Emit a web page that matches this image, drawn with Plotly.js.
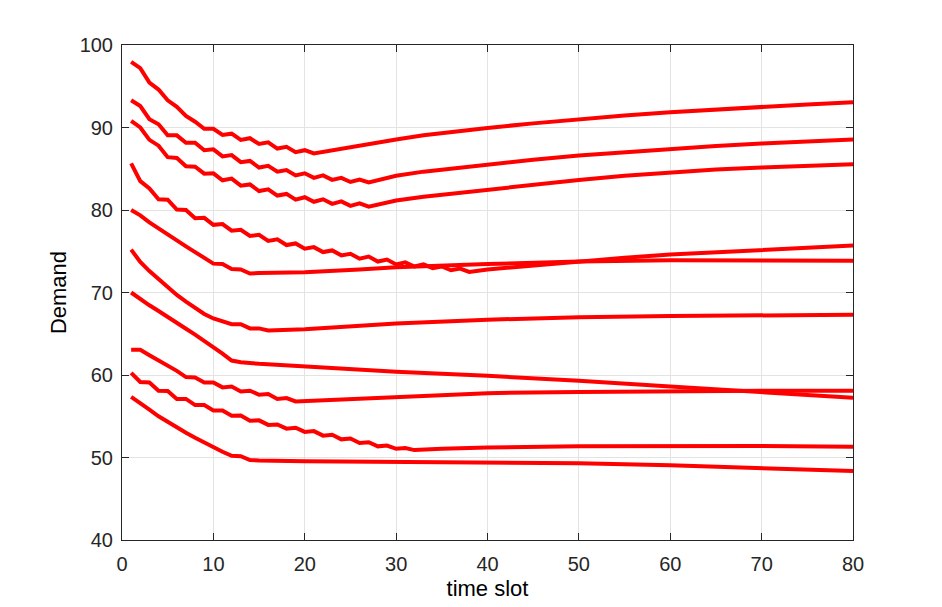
<!DOCTYPE html>
<html>
<head>
<meta charset="utf-8">
<script src="https://cdn.plot.ly/plotly-3.0.1.min.js"></script>
<style>
  html, body { margin: 0; padding: 0; background: #ffffff; }
  #chart { width: 942px; height: 607px; }
</style>
</head>
<body>
<div id="chart"></div>
<script>
// Demand per time slot for ten users
const slot1 = [1,2,3,4,5,6,7,8,9,10,11,12,13,14,15,16,17,18,19,20,21,22,23,25,27,30,33,37,40,45,50,55,60,65,70,75,80];
const demand1 = [97.95,97.2,95.45,94.6,93.3,92.5,91.4,90.7,89.85,89.85,89.1,89.25,88.5,88.7,88.0,88.2,87.45,87.65,87.0,87.25,86.85,87.05,87.25,87.6,87.95,88.55,89.05,89.6,89.95,90.5,91.0,91.45,91.85,92.2,92.5,92.8,93.05];

const slot2 = [1,2,3,4,5,6,7,8,9,10,11,12,13,14,15,16,17,18,19,20,21,22,23,24,25,26,27,28,30,33,37,40,45,50,55,60,65,70,75,80];
const demand2 = [93.3,92.6,91.0,90.4,89.05,89.05,88.15,88.15,87.25,87.35,86.5,86.65,85.8,85.95,85.15,85.35,84.65,84.85,84.2,84.45,83.9,84.2,83.65,83.9,83.4,83.7,83.35,83.6,84.15,84.65,85.15,85.5,86.1,86.6,87.0,87.4,87.75,88.05,88.3,88.55];

const slot3 = [1,2,3,4,5,6,7,8,9,10,11,12,13,14,15,16,17,18,19,20,21,22,23,24,25,26,27,28,30,33,37,40,45,50,55,60,65,70,75,80];
const demand3 = [90.8,90.0,88.5,87.8,86.4,86.3,85.3,85.25,84.4,84.45,83.6,83.8,82.95,83.1,82.3,82.5,81.75,81.95,81.25,81.55,81.0,81.3,80.75,81.05,80.5,80.8,80.4,80.65,81.15,81.6,82.1,82.45,83.1,83.65,84.15,84.55,84.9,85.15,85.35,85.55];

const slot4 = [1,2,3,4,5,6,7,8,9,10,11,12,13,14,15,16,17,18,19,20,21,22,23,24,25,26,27,28,29,30,31,32,33,34,35,36,37,38,40,45,50,55,60,65,70,75,80];
const demand4 = [85.65,83.5,82.6,81.3,81.25,80.05,80.0,79.0,79.05,78.2,78.3,77.5,77.6,76.85,77.0,76.25,76.45,75.75,75.95,75.3,75.5,74.9,75.1,74.5,74.7,74.1,74.35,73.75,74.0,73.4,73.65,73.15,73.4,72.95,73.15,72.7,72.9,72.5,72.8,73.3,73.8,74.2,74.6,74.9,75.2,75.45,75.7];

const slot5 = [1,2,3,4,5,6,7,8,9,10,11,12,13,14,15,20,26,30,40,50,60,70,80];
const demand5 = [80.0,79.35,78.5,77.75,77.0,76.3,75.6,74.9,74.2,73.5,73.45,72.85,72.8,72.3,72.35,72.45,72.8,73.05,73.45,73.75,73.9,73.9,73.85];

const slot6 = [1,2,3,4,5,6,7,8,9,10,11,12,13,14,15,16,20,26,30,40,50,60,70,80];
const demand6 = [75.2,73.7,72.6,71.6,70.6,69.7,68.9,68.1,67.4,66.85,66.45,66.15,66.15,65.65,65.65,65.4,65.55,66.0,66.25,66.7,67.0,67.15,67.25,67.3];

const slot7 = [1,2,3,4,5,6,7,8,9,10,11,12,13,15,20,26,30,40,47,50,60,70,80];
const demand7 = [70.0,69.2,68.45,67.75,67.0,66.35,65.6,64.9,64.15,63.4,62.6,61.75,61.55,61.35,61.0,60.65,60.4,59.9,59.5,59.3,58.6,57.95,57.25];

const slot8 = [1,2,3,4,5,6,7,8,9,10,11,12,13,14,15,16,17,18,19,20,25,30,37,40,50,60,70,80];
const demand8 = [63.05,63.05,62.4,61.8,61.2,60.5,59.75,59.7,59.1,59.1,58.5,58.6,58.0,58.1,57.6,57.7,57.1,57.2,56.8,56.85,57.05,57.3,57.7,57.8,57.95,58.05,58.1,58.1];

const slot9 = [1,2,3,4,5,6,7,8,9,10,11,12,13,14,15,16,17,18,19,20,21,22,23,24,25,26,27,28,29,30,31,32,35,40,50,60,70,80];
const demand9 = [60.25,59.15,59.1,58.1,58.05,57.1,57.1,56.35,56.35,55.7,55.7,55.05,55.1,54.45,54.5,53.95,54.0,53.5,53.6,53.1,53.2,52.65,52.75,52.2,52.3,51.75,51.85,51.35,51.45,51.05,51.15,50.9,51.05,51.2,51.35,51.4,51.4,51.3];

const slot10 = [1,2,3,4,5,6,7,8,9,10,11,12,13,14,15,20,30,40,50,60,70,80];
const demand10 = [57.35,56.5,55.8,55.0,54.3,53.6,53.0,52.4,51.8,51.25,50.7,50.2,50.15,49.7,49.65,49.55,49.5,49.45,49.3,49.05,48.75,48.35];

const xTicks = [0,10,20,30,40,50,60,70,80];
const yTicks = [40,50,60,70,80,90,100];

const series = [
  [slot1, demand1], [slot2, demand2], [slot3, demand3], [slot4, demand4], [slot5, demand5],
  [slot6, demand6], [slot7, demand7], [slot8, demand8], [slot9, demand9], [slot10, demand10]
];

const traces = series.map(([xs, ys]) => ({
  x: xs,
  y: ys,
  type: 'scatter',
  mode: 'lines',
  line: { color: '#ff0000', width: 4 },
  hoverinfo: 'skip',
  showlegend: false
}));

const axisCommon = {
  showline: true,
  linecolor: '#262626',
  linewidth: 1,
  mirror: 'ticks',
  ticks: 'inside',
  ticklen: 7,
  tickwidth: 1,
  tickcolor: '#262626',
  showgrid: true,
  gridcolor: '#e3e3e3',
  gridwidth: 1,
  zeroline: false,
  tickfont: { family: 'Liberation Sans, Arial, sans-serif', size: 20, color: '#262626' }
};

const layout = {
  width: 942,
  height: 607,
  margin: { l: 122, r: 89, t: 45, b: 67 },
  paper_bgcolor: '#ffffff',
  plot_bgcolor: '#ffffff',
  font: { family: 'Liberation Sans, Arial, sans-serif', color: '#262626' },
  xaxis: Object.assign({}, axisCommon, {
    range: [0, 80],
    tickvals: xTicks,
    ticktext: xTicks.map(String),
    ticklabelstandoff: 6,
    title: { text: 'time slot', font: { size: 22, color: '#000000' }, standoff: 6 }
  }),
  yaxis: Object.assign({}, axisCommon, {
    range: [40, 100],
    tickvals: yTicks,
    ticktext: yTicks.map(String),
    ticklabelstandoff: 4,
    title: { text: 'Demand', font: { size: 22, color: '#000000' }, standoff: 6 }
  })
};

Plotly.newPlot('chart', traces, layout, { displayModeBar: false, staticPlot: true });
</script>
</body>
</html>
